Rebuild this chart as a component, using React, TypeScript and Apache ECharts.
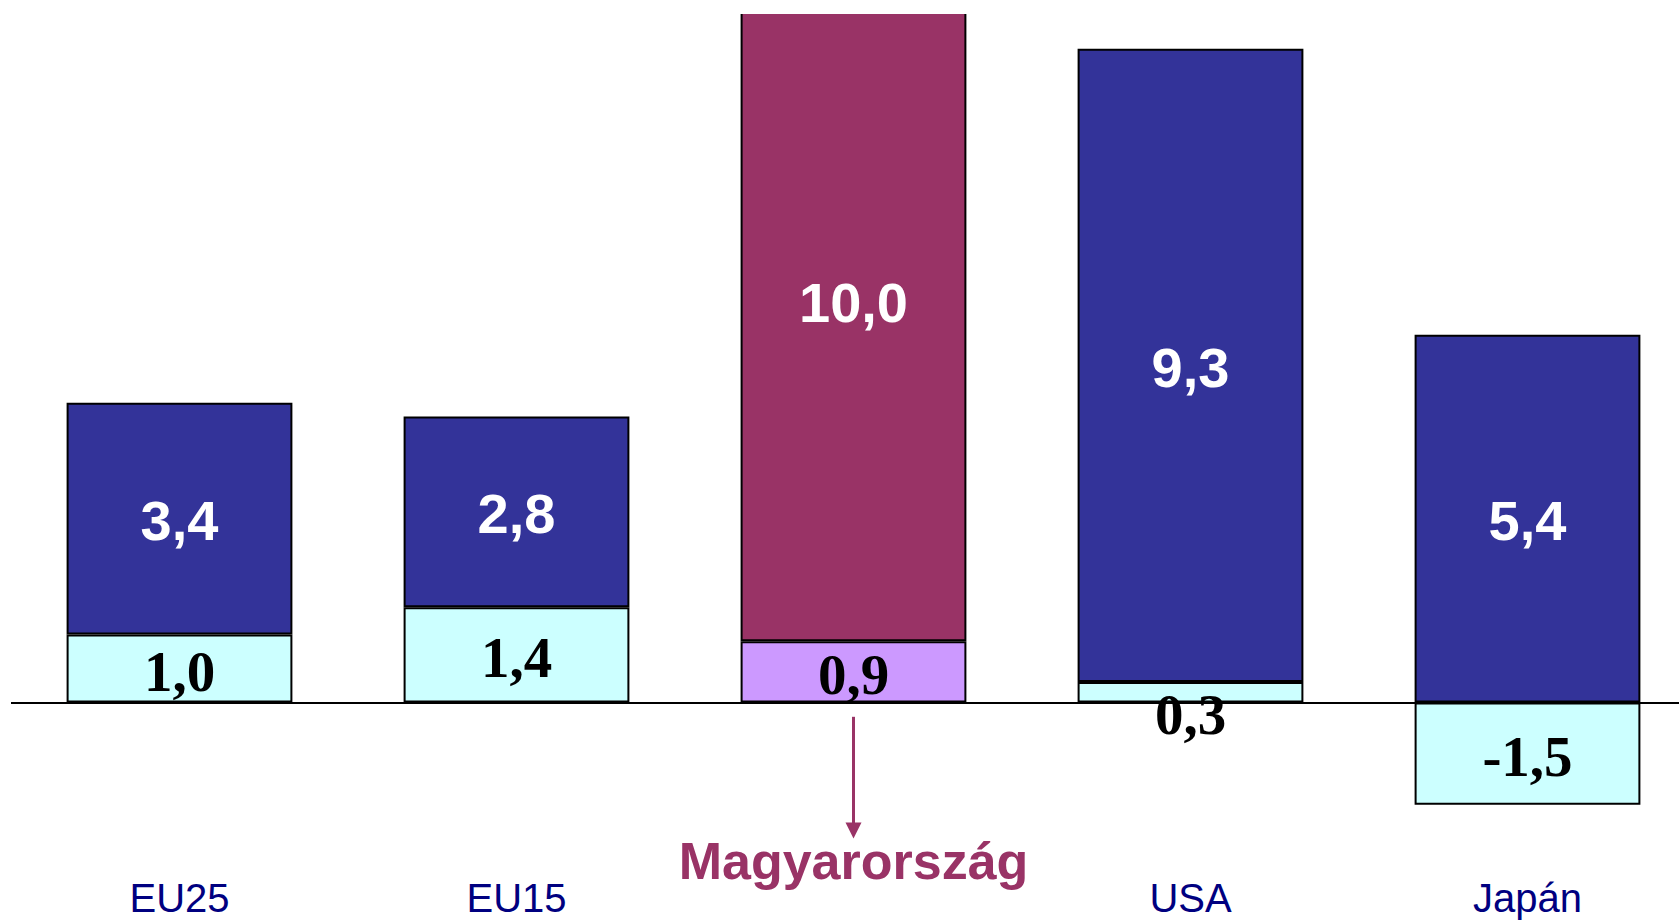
import React, { useEffect, useRef } from "react";
import * as echarts from "echarts";

const categories = ["EU25", "EU15", "Magyarország", "USA", "Japán"];
const baseValues = [1.0, 1.4, 0.9, 0.3, -1.5];
const topValues = [3.4, 2.8, 10.0, 9.3, 5.4];
const highlight = "Magyarország";

const SANS = "'Liberation Sans', Arial, Helvetica, sans-serif";
const SERIF = "'Liberation Serif', 'Times New Roman', serif";

const fmt = (v: number) => v.toFixed(1).replace(".", ",");

export default function App() {
  const ref = useRef<HTMLDivElement>(null);

  useEffect(() => {
    if (!ref.current) return;
    const chart = echarts.init(ref.current, undefined, { renderer: "svg" });
    const hIdx = categories.indexOf(highlight);

    const baseData = baseValues.map((v, i) => {
      const item: any = { value: v };
      if (i === hIdx) item.itemStyle = { color: "#CC99FF" };
      if (categories[i] === "USA") item.label = { offset: [0, 22] };
      return item;
    });
    const topData = topValues.map((v, i) => {
      const item: any = { value: v };
      if (i === hIdx) item.itemStyle = { color: "#993366" };
      return item;
    });

    // 68.1 px per unit, zero line at y≈702.5
    chart.setOption({
      animation: false,
      backgroundColor: "#ffffff",
      grid: {
        left: 11,
        right: -17,
        top: -46.6,
        bottom: 81.3,
        containLabel: false,
        outerBoundsMode: "none",
      },
      graphic: [
        {
          type: "rect",
          left: 0,
          top: 0,
          z: 100,
          silent: true,
          shape: { width: 1679, height: 14 },
          style: { fill: "#ffffff" },
        },
      ],
      xAxis: {
        type: "category",
        data: categories,
        axisLine: { show: false, onZero: false },
        axisTick: { show: false },
        splitLine: { show: false },
        axisLabel: {
          interval: 0,
          margin: 0,
          formatter: (v: string) => (v === highlight ? `{h|${v}}` : `{n|${v}}`),
          rich: {
            n: {
              fontSize: 40,
              lineHeight: 118,
              color: "#000080",
              fontFamily: SANS,
            },
            h: {
              fontSize: 52,
              lineHeight: 44,
              fontWeight: "bold",
              color: "#993366",
              fontFamily: SANS,
            },
          },
        },
      },
      yAxis: {
        type: "value",
        min: -2,
        max: 11,
        show: false,
        splitLine: { show: false },
      },
      series: [
        {
          name: "base",
          type: "bar",
          stack: "total",
          barWidth: "67%",
          data: baseData,
          itemStyle: { color: "#CCFFFF", borderColor: "#000", borderWidth: 2 },
          label: {
            show: true,
            position: "inside",
            offset: [0, 3],
            formatter: (p: any) => fmt(p.value),
            color: "#000",
            fontFamily: SERIF,
            fontWeight: "bold",
            fontSize: 57,
          },
          markLine: {
            silent: true,
            symbol: ["none", "triangle"],
            symbolSize: 16,
            label: { show: false },
            lineStyle: { color: "#993366", width: 3, type: "solid" },
            itemStyle: { color: "#993366" },
            data: [[{ coord: [hIdx, -0.21] }, { coord: [hIdx, -1.88] }]],
          },
          z: 3,
        },
        {
          name: "top",
          type: "bar",
          stack: "total",
          barWidth: "67%",
          data: topData,
          itemStyle: { color: "#333399", borderColor: "#000", borderWidth: 2 },
          label: {
            show: true,
            position: "inside",
            offset: [0, 2],
            formatter: (p: any) => fmt(p.value),
            color: "#fff",
            fontFamily: SANS,
            fontWeight: "bold",
            fontSize: 56,
          },
          markLine: {
            silent: true,
            symbol: ["none", "none"],
            label: { show: false },
            lineStyle: { color: "#000", width: 2, type: "solid" },
            data: [{ yAxis: 0 }],
          },
          z: 2,
        },
      ],
    });

    return () => chart.dispose();
  }, []);

  return (
    <div
      ref={ref}
      style={{ position: "fixed", left: 0, top: 0, width: 1679, height: 920, background: "#fff" }}
    />
  );
}
